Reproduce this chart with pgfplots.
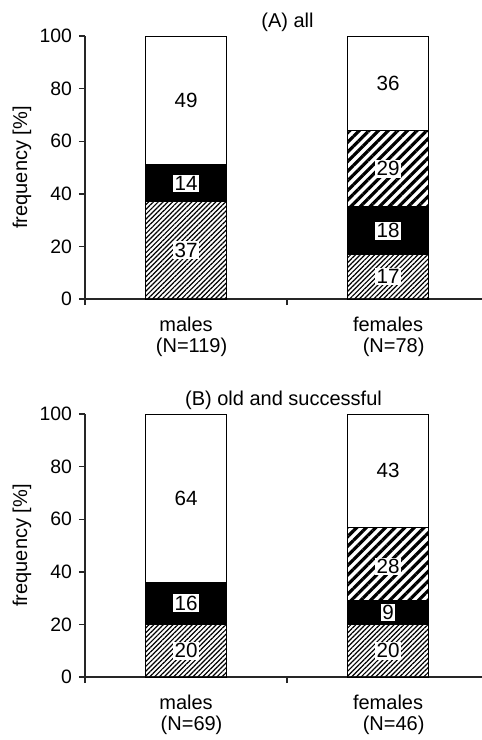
\documentclass[border=0pt]{standalone}
\usepackage{fontspec}
\setmainfont{Liberation Sans}
\usepackage{pgfplots}
\pgfplotsset{compat=1.18}
\usetikzlibrary{patterns.meta}
\tikzset{
  finehatch/.style={pattern={Lines[angle=45,distance=1.7pt,line width=0.6pt]}},
  coarsehatch/.style={pattern={Lines[angle=45,distance=3.4pt,line width=1.6pt]}},
}
\pgfplotsset{
  panelbase/.style={
    scale only axis, width=198.5pt, height=131.5pt,
    xmin=0, xmax=1.965, ymin=0, ymax=100,
    anchor=south west, clip=false,
  },
  panel/.style={
    panelbase,
    axis x line*=bottom, axis y line*=left,
    axis line style={line width=0.7pt, black!85},
    xtick={0,1,2}, xticklabels={},
    ytick={0,20,...,100},
    xtick align=outside, ytick align=outside,
    major tick length=3pt,
    tick style={line width=0.7pt, black!85},
    /pgf/number format/assume math mode=true,
    ticklabel style={font=\fontsize{9.7}{11}\selectfont},
    extra x ticks={0.5,1.5},
    extra x tick style={major tick length=0pt,
      xticklabel style={align=center, yshift=-5.5pt, font=\fontsize{10}{10.5}\selectfont}},
    ylabel={frequency [\%]},
    every axis y label/.style={at={(axis description cs:0,0.5)}, xshift=-31.5pt, rotate=90, anchor=center, font=\fontsize{10}{11}\selectfont},
    ybar stacked, bar width=40.5pt,
  },
  labels/.style={
    panelbase, hide axis,
  },
  lab/.style={draw=none, mark=none, nodes near coords, point meta=explicit symbolic,
    every node near coord/.style={anchor=center, fill=white, inner sep=0.8pt, font=\fontsize{10.3}{11}\selectfont}},
}
\begin{document}
\begin{tikzpicture}
\useasboundingbox (0,0) rectangle (241pt,-370pt);
% Panel A
\begin{axis}[panel, at={(42.5pt,-149.5pt)},
  extra x tick labels={males\\\ \ (N=119), females\\\ \ (N=78)}]
\addplot[draw=black, line width=0.5pt, finehatch] coordinates {(0.5,37) (1.5,17)};
\addplot[draw=black, line width=0.5pt, fill=black] coordinates {(0.5,14) (1.5,18)};
\addplot[draw=black, line width=0.5pt, coarsehatch] coordinates {(0.5,0) (1.5,29)};
\addplot[draw=black, line width=0.5pt, fill=white] coordinates {(0.5,49) (1.5,36)};
\node[anchor=base, yshift=4.5pt, font=\fontsize{10}{11}\selectfont] at (rel axis cs:0.51,1) {(A) all};
\end{axis}
\begin{axis}[labels, at={(42.5pt,-149.5pt)}]
\addplot[lab] coordinates {(0.5,18.5)[37] (0.5,44)[14] (0.5,75.5)[49]
  (1.5,8.5)[17] (1.5,26)[18] (1.5,49.5)[29] (1.5,82)[36]};
\end{axis}
% Panel B
\begin{axis}[panel, at={(42.5pt,-338.5pt)},
  extra x tick labels={males\\\ \ (N=69), females\\\ \ (N=46)}]
\addplot[draw=black, line width=0.5pt, finehatch] coordinates {(0.5,20) (1.5,20)};
\addplot[draw=black, line width=0.5pt, fill=black] coordinates {(0.5,16) (1.5,9)};
\addplot[draw=black, line width=0.5pt, coarsehatch] coordinates {(0.5,0) (1.5,28)};
\addplot[draw=black, line width=0.5pt, fill=white] coordinates {(0.5,64) (1.5,43)};
\node[anchor=base, yshift=4.5pt, font=\fontsize{10}{11}\selectfont] at (rel axis cs:0.5,1) {(B) old and successful};
\end{axis}
\begin{axis}[labels, at={(42.5pt,-338.5pt)}]
\addplot[lab] coordinates {(0.5,10)[20] (0.5,28)[16] (0.5,68)[64]
  (1.5,10)[20] (1.5,24.5)[9] (1.5,42)[28] (1.5,78.5)[43]};
\end{axis}
\end{tikzpicture}
\end{document}
